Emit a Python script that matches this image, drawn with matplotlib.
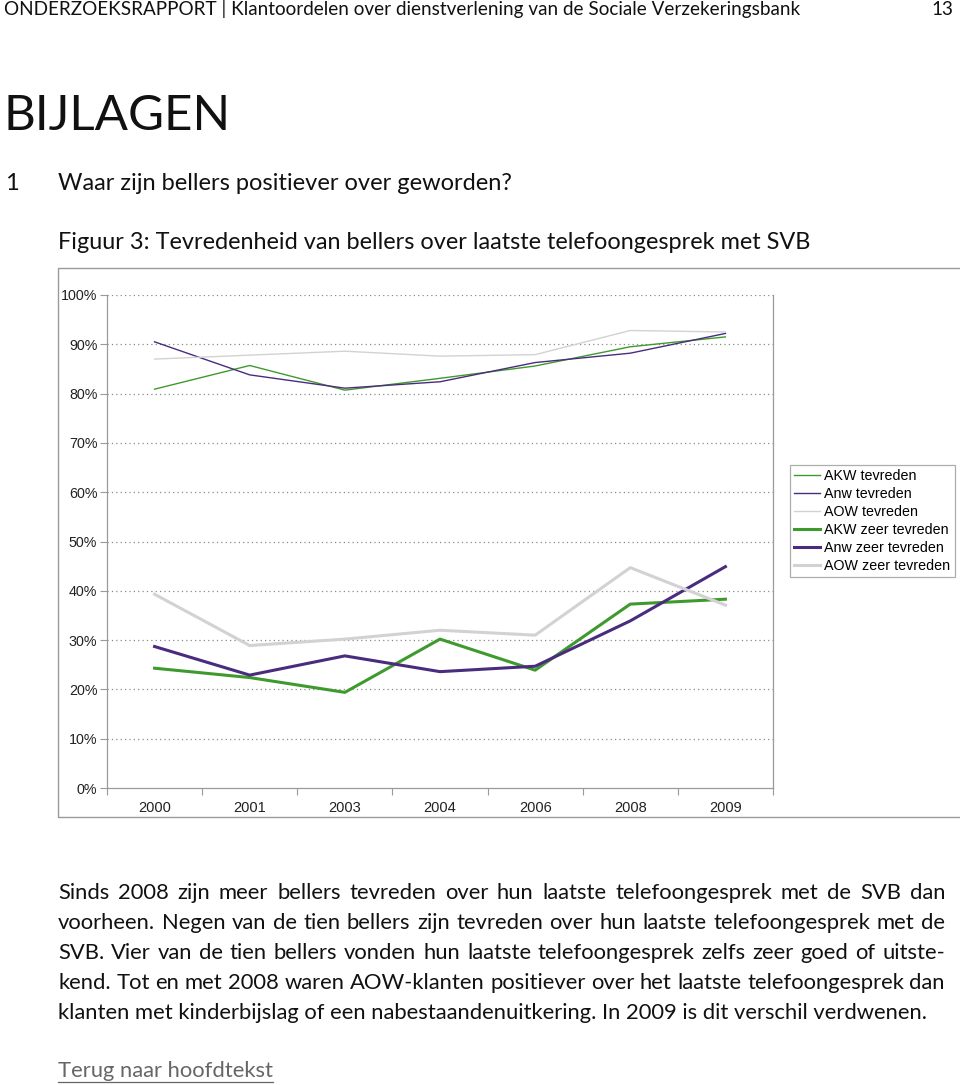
import matplotlib
matplotlib.use("Agg")
import matplotlib.pyplot as plt
from matplotlib.patches import Rectangle
from matplotlib.lines import Line2D

W, H = 960, 1085

years = ["2000", "2001", "2003", "2004", "2006", "2008", "2009"]
akw_tevreden = [80.9, 85.7, 80.7, 83.1, 85.6, 89.5, 91.5]
anw_tevreden = [90.5, 83.8, 81.1, 82.4, 86.3, 88.2, 92.2]
aow_tevreden = [87.0, 87.8, 88.6, 87.6, 87.9, 92.8, 92.5]
akw_zeer = [24.3, 22.4, 19.4, 30.2, 23.9, 37.3, 38.3]
anw_zeer = [28.7, 22.9, 26.8, 23.6, 24.7, 33.9, 44.9]
aow_zeer = [39.3, 28.9, 30.2, 32.0, 31.0, 44.7, 37.1]
yticks = [0, 10, 20, 30, 40, 50, 60, 70, 80, 90, 100]

series_names = ["AKW tevreden", "Anw tevreden", "AOW tevreden",
                "AKW zeer tevreden", "Anw zeer tevreden", "AOW zeer tevreden"]

GREEN = "#3f9a2e"
PURPLE = "#4a2c7e"
GRAY = "#d2d2d2"

body_font = "Lato"
chart_font = "Liberation Sans"
TXT = "#111111"

fig = plt.figure(figsize=(W / 100, H / 100), dpi=100)


def fx(x):
    return x / W


def fy(y):
    return 1 - y / H


# Header
fig.text(fx(4), fy(15), "ONDERZOEKSRAPPORT | Klantoordelen over dienstverlening van de Sociale Verzekeringsbank",
         fontsize=13.6, family=body_font, va="baseline", ha="left", color=TXT)
fig.text(fx(953), fy(15), "13", fontsize=13.6, family=body_font, va="baseline", ha="right",
         color=TXT)

fig.text(fx(3), fy(130), "BIJLAGEN", fontsize=35.5, family=body_font,
         va="baseline", ha="left", color=TXT)
fig.text(fx(5), fy(190), "1", fontsize=17, family=body_font, va="baseline", ha="left",
         color=TXT)
fig.text(fx(58), fy(190), "Waar zijn bellers positiever over geworden?", fontsize=17,
         family=body_font, va="baseline", ha="left", color=TXT)
fig.text(fx(58), fy(249), "Figuur 3: Tevredenheid van bellers over laatste telefoongesprek met SVB",
         fontsize=16.9, family=body_font, va="baseline", ha="left", color=TXT)

# Outer chart frame
fig.patches.append(Rectangle((fx(58), fy(817)), fx(962 - 58), (817 - 268) / H,
                             transform=fig.transFigure, fill=False,
                             edgecolor="#9a9a9a", lw=1.0))

ax = fig.add_axes([fx(107), fy(788), fx(773 - 107), (788 - 295) / H])
x = list(range(len(years)))
ax.plot(x, akw_tevreden, color=GREEN, lw=1.0)
ax.plot(x, anw_tevreden, color=PURPLE, lw=1.0)
ax.plot(x, aow_tevreden, color=GRAY, lw=1.0)
ax.plot(x, akw_zeer, color=GREEN, lw=2.2)
ax.plot(x, anw_zeer, color=PURPLE, lw=2.2)
ax.plot(x, aow_zeer, color=GRAY, lw=2.2)

ax.set_xlim(-0.5, len(years) - 0.5)
ax.set_ylim(0, 100)
ax.set_yticks(yticks)
ax.set_yticklabels([f"{v}%" for v in yticks], family=chart_font, fontsize=10.3, color="#222222")
ax.set_xticks(x)
ax.set_xticklabels(years, family=chart_font, fontsize=10.5, color="#222222")
ax.set_xticks([i - 0.5 for i in range(len(years) + 1)], minor=True)
ax.tick_params(axis="x", which="major", length=0, pad=9)
ax.tick_params(axis="x", which="minor", length=5, color="#9a9a9a", width=0.8)
ax.tick_params(axis="y", length=5, color="#9a9a9a", width=0.8, pad=2)
for v in yticks[1:]:
    ax.axhline(v, color="#8a8a8a", lw=0.9, ls=(0, (1, 2.5)), zorder=0)
for s in ["left", "bottom", "right"]:
    ax.spines[s].set_color("#9a9a9a")
    ax.spines[s].set_linewidth(0.9)
ax.spines["top"].set_visible(False)

handles = [Line2D([], [], color=GREEN, lw=1.0), Line2D([], [], color=PURPLE, lw=1.0),
           Line2D([], [], color=GRAY, lw=1.0), Line2D([], [], color=GREEN, lw=2.2),
           Line2D([], [], color=PURPLE, lw=2.2), Line2D([], [], color=GRAY, lw=2.2)]
leg = fig.legend(handles, series_names, loc="upper left",
                 bbox_to_anchor=(fx(790), fy(465)), bbox_transform=fig.transFigure,
                 prop={"family": chart_font, "size": 10.3}, frameon=True, fancybox=False,
                 borderpad=0.3, labelspacing=0.27, handlelength=1.8, handletextpad=0.3,
                 borderaxespad=0)
leg.get_frame().set_edgecolor("#9a9a9a")
leg.get_frame().set_linewidth(0.9)

# Body paragraph (justified)
lines = [
    "Sinds 2008 zijn meer bellers tevreden over hun laatste telefoongesprek met de SVB dan",
    "voorheen. Negen van de tien bellers zijn tevreden over hun laatste telefoongesprek met de",
    "SVB. Vier van de tien bellers vonden hun laatste telefoongesprek zelfs zeer goed of uitste-",
    "kend. Tot en met 2008 waren AOW-klanten positiever over het laatste telefoongesprek dan",
    "klanten met kinderbijslag of een nabestaandenuitkering. In 2009 is dit verschil verdwenen.",
]
line_y = [899, 929, 959, 989, 1019]
left, right = 58, 945
fsize = 15.8
renderer = fig.canvas.get_renderer()
for i, (ln, yy) in enumerate(zip(lines, line_y)):
    if i == len(lines) - 1:
        fig.text(fx(left), fy(yy), ln, fontsize=fsize, family=body_font, va="baseline",
                 ha="left", color=TXT)
        continue
    words = ln.split(" ")
    widths = []
    for w in words:
        t = fig.text(0, 0, w, fontsize=fsize, family=body_font)
        widths.append(t.get_window_extent(renderer).width)
        t.remove()
    gap = (right - left - sum(widths)) / (len(words) - 1)
    cx = left
    for w, wd in zip(words, widths):
        fig.text(fx(cx), fy(yy), w, fontsize=fsize, family=body_font, va="baseline",
                 ha="left", color=TXT)
        cx += wd + gap

link = fig.text(fx(58), fy(1077), "Terug naar hoofdtekst", fontsize=15.8, family=body_font,
                va="baseline", ha="left", color="#666666")
lw_ = link.get_window_extent(renderer).width
fig.add_artist(Line2D([fx(58), fx(58 + lw_)], [fy(1082), fy(1082)], color="#666666", lw=0.9,
                      transform=fig.transFigure))

fig.savefig("out.png", dpi=100)
